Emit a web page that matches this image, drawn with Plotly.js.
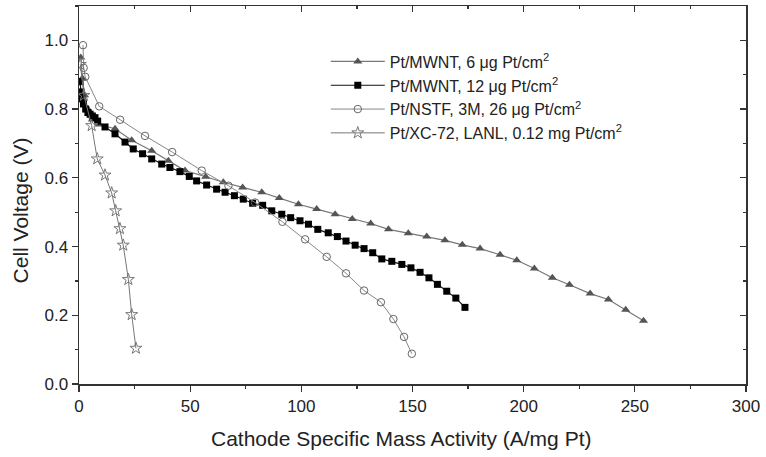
<!DOCTYPE html>
<html><head><meta charset="utf-8">
<script src="https://cdn.plot.ly/plotly-3.0.1.min.js"></script>
<style>html,body{margin:0;padding:0;background:#fff}</style>
</head><body><div id="chart" style="width:766px;height:457px"></div>
<script>
const names = [
  "Pt/MWNT, 6 μg Pt/cm<sup>2</sup>",
  "Pt/MWNT, 12 μg Pt/cm<sup>2</sup>",
  "Pt/NSTF, 3M, 26 μg Pt/cm<sup>2</sup>",
  "Pt/XC-72, LANL, 0.12 mg Pt/cm<sup>2</sup>"
];
const xTitle = "Cathode Specific Mass Activity (A/mg Pt)";
const yTitle = "Cell Voltage (V)";
const triX = [0.8, 1.5, 2.5, 4, 6, 9, 16.2, 23.7, 32.7, 40.2, 47.7, 57, 64.9, 73.6, 82.2, 90.1, 98.7, 106.9, 115.2, 122.9, 131.2, 139.2, 148.1, 156.4, 164.6, 172.4, 180.4, 189.4, 196.9, 204.8, 212.9, 220.6, 229.9, 238.1, 245.9, 253.9];
const triY = [0.95, 0.89, 0.84, 0.80, 0.77, 0.755, 0.743, 0.709, 0.679, 0.650, 0.621, 0.603, 0.587, 0.572, 0.558, 0.541, 0.523, 0.509, 0.494, 0.480, 0.467, 0.450, 0.439, 0.429, 0.418, 0.405, 0.394, 0.376, 0.360, 0.336, 0.309, 0.289, 0.263, 0.246, 0.216, 0.184];
const sqX = [0.4, 0.8, 1.3, 2, 3, 4, 5, 6, 7.2, 8.4, 11.7, 16.2, 20.7, 24.4, 28.6, 32.7, 37.2, 40.9, 45.4, 49.6, 52.9, 57.4, 61.9, 65.7, 69.9, 73.9, 78.1, 82.6, 86.7, 91.2, 95.2, 99.4, 103.2, 107.4, 112.1, 116.2, 120.1, 124.2, 128.2, 132.1, 136.2, 140.7, 145.2, 149.3, 153.4, 157.4, 161.2, 165.4, 169.5, 173.6];
const sqY = [0.88, 0.85, 0.83, 0.815, 0.80, 0.79, 0.785, 0.78, 0.775, 0.765, 0.748, 0.728, 0.704, 0.684, 0.670, 0.655, 0.640, 0.630, 0.618, 0.604, 0.591, 0.579, 0.567, 0.558, 0.548, 0.538, 0.526, 0.520, 0.504, 0.494, 0.484, 0.475, 0.465, 0.450, 0.440, 0.429, 0.416, 0.404, 0.394, 0.382, 0.364, 0.357, 0.348, 0.338, 0.325, 0.309, 0.290, 0.270, 0.250, 0.223];
const cirX = [1.8, 2.1, 2.8, 9.1, 18.5, 29.7, 41.9, 55.2, 67.2, 79.2, 91.5, 101.7, 111.4, 120.1, 128.2, 135.8, 141.4, 146.2, 149.7];
const cirY = [0.986, 0.92, 0.894, 0.808, 0.769, 0.722, 0.675, 0.621, 0.577, 0.528, 0.472, 0.421, 0.370, 0.322, 0.272, 0.238, 0.189, 0.137, 0.088];
const starX = [0.6, 2.2, 5.7, 8.2, 11.7, 14.7, 16.5, 18.4, 19.9, 22.2, 23.7, 25.6];
const starY = [0.93, 0.84, 0.752, 0.655, 0.608, 0.556, 0.504, 0.452, 0.404, 0.304, 0.202, 0.104];

const traces = [
  {x: triX, y: triY, name: names[0], mode: "lines+markers",
   line: {color: "#777", width: 1.2},
   marker: {symbol: "triangle-up", size: 8, color: "#555", line: {width: 0}}},
  {x: sqX, y: sqY, name: names[1], mode: "lines+markers",
   line: {color: "#111", width: 1.2},
   marker: {symbol: "square", size: 7, color: "#000", line: {width: 0}}},
  {x: cirX, y: cirY, name: names[2], mode: "lines+markers",
   line: {color: "#888", width: 1},
   marker: {symbol: "circle-open", size: 7.5, color: "#666", line: {width: 1}}},
  {x: starX, y: starY, name: names[3], mode: "lines+markers",
   line: {color: "#777", width: 1},
   marker: {symbol: "star-open", size: 9, color: "#777", line: {width: 1}}},
  {x: [0], y: [0], xaxis: "x2", yaxis: "y2", showlegend: false, hoverinfo: "skip",
   mode: "markers", marker: {opacity: 0}}
];

const FAM = '"Liberation Sans", Arial, sans-serif';
const axFont = {family: FAM, size: 17, color: "#222"};
const layout = {
  width: 766, height: 457,
  margin: {l: 79, r: 20, t: 6, b: 73},
  paper_bgcolor: "#fff", plot_bgcolor: "#fff",
  showlegend: true,
  legend: {x: 0.37, y: 0.898, xanchor: "left", yanchor: "top",
           bgcolor: "rgba(0,0,0,0)", borderwidth: 0, itemwidth: 54,
           font: {family: FAM, size: 16, color: "#222"},
           tracegroupgap: 0},
  annotations: [
    {text: xTitle, xref: "paper", yref: "paper", x: 0.483, y: -0.143,
     xanchor: "center", yanchor: "middle", showarrow: false,
     font: {family: FAM, size: 21, color: "#222"}},
    {text: yTitle, xref: "paper", yref: "paper", x: -0.088, y: 0.46,
     xanchor: "center", yanchor: "middle", showarrow: false, textangle: -90,
     font: {family: FAM, size: 21, color: "#222"}}
  ],
  xaxis: {range: [0, 300], dtick: 50, tick0: 0, showgrid: false, zeroline: false,
          showline: true, linecolor: "#333", linewidth: 1.5,
          ticks: "outside", ticklen: 6, tickwidth: 1.2, tickcolor: "#333",
          minor: {dtick: 25, ticks: "outside", ticklen: 3, tickcolor: "#333", showgrid: false},
          tickfont: axFont},
  yaxis: {range: [0, 1.1], dtick: 0.2, tick0: 0, tickformat: ".1f", showgrid: false, zeroline: false,
          showline: true, linecolor: "#333", linewidth: 1.5,
          ticks: "outside", ticklen: 6, tickwidth: 1.2, tickcolor: "#333",
          minor: {dtick: 0.1, ticks: "outside", ticklen: 3, tickcolor: "#333", showgrid: false},
          tickfont: axFont},
  xaxis2: {overlaying: "x", side: "top", range: [0, 300], dtick: 50, tick0: 0,
           showgrid: false, zeroline: false, showticklabels: false,
           showline: true, linecolor: "#333", linewidth: 1.5,
           ticks: "inside", ticklen: 6, tickwidth: 1.2, tickcolor: "#333",
           minor: {dtick: 25, ticks: "inside", ticklen: 3, tickcolor: "#333", showgrid: false}},
  yaxis2: {overlaying: "y", side: "right", range: [0, 1.1], dtick: 0.2, tick0: 0,
           showgrid: false, zeroline: false, showticklabels: false,
           showline: true, linecolor: "#333", linewidth: 1.5,
           ticks: "inside", ticklen: 6, tickwidth: 1.2, tickcolor: "#333",
           minor: {dtick: 0.1, ticks: "inside", ticklen: 3, tickcolor: "#333", showgrid: false}}
};
Plotly.newPlot("chart", traces, layout, {displayModeBar: false, staticPlot: true});
</script></body></html>
